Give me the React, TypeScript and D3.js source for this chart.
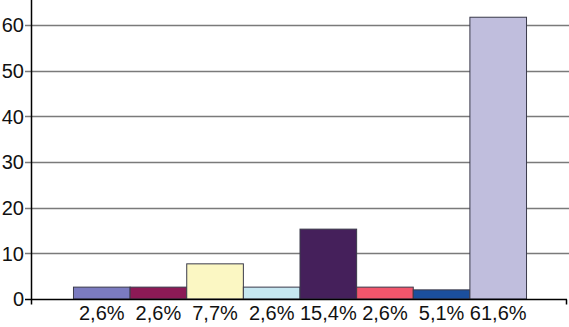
import { useEffect, useRef } from "react";
import * as d3 from "d3";

// data
const categories = ["2,6%", "2,6%", "7,7%", "2,6%", "15,4%", "2,6%", "5,1%", "61,6%"];
const values = [2.6, 2.6, 7.7, 2.6, 15.3, 2.6, 2.0, 61.7];
const colors = ["#7b7bc0", "#8c1a56", "#fbf7c3", "#c6e7f1", "#45205b", "#f1566c", "#1b4f9d", "#c0bedd"];
const yTicks = [0, 10, 20, 30, 40, 50, 60];

function App() {
  const ref = useRef<SVGSVGElement>(null);

  const width = 569;
  const height = 327;
  const margin = { top: 25, right: 0, bottom: 28, left: 31 };

  useEffect(() => {
    const svg = d3.select(ref.current);
    svg.selectAll("*").remove();

    const x = d3.scaleBand()
      .domain(categories.map((_, i) => String(i)))
      .range([margin.left, width - margin.right])
      .paddingInner(0)
      .paddingOuter(0.75);

    const y = d3.scaleLinear()
      .domain([0, 60])
      .range([height - margin.bottom, margin.top]);

    // gridlines (with short ticks left of the axis)
    svg.append("g")
      .selectAll("line")
      .data(yTicks.slice(1))
      .enter()
      .append("line")
      .attr("x1", margin.left - 6)
      .attr("x2", width)
      .attr("y1", d => Math.round(y(d)) + 0.5)
      .attr("y2", d => Math.round(y(d)) + 0.5)
      .attr("stroke", "#7a7a7a")
      .attr("stroke-width", 1.5);

    // bars
    svg.append("g")
      .selectAll("rect")
      .data(values)
      .enter()
      .append("rect")
      .attr("x", (_, i) => x(String(i))!)
      .attr("y", d => y(d))
      .attr("width", x.bandwidth())
      .attr("height", d => y(0) - y(d))
      .attr("fill", (_, i) => colors[i])
      .attr("stroke", "#3a3a4a")
      .attr("stroke-width", 1);

    // axes
    const y0 = Math.round(y(0)) + 0.5;
    svg.append("line")
      .attr("x1", margin.left - 6).attr("x2", width - 2)
      .attr("y1", y0).attr("y2", y0)
      .attr("stroke", "#000").attr("stroke-width", 1.5);
    svg.append("line")
      .attr("x1", width - 2.5).attr("x2", width - 2.5)
      .attr("y1", y0).attr("y2", y0 + 5)
      .attr("stroke", "#000").attr("stroke-width", 1.5);
    svg.append("line")
      .attr("x1", margin.left + 0.5).attr("x2", margin.left + 0.5)
      .attr("y1", 0).attr("y2", y0 + 5)
      .attr("stroke", "#000").attr("stroke-width", 1.5);

    // y tick labels
    svg.append("g")
      .selectAll("text")
      .data(yTicks)
      .enter()
      .append("text")
      .attr("x", margin.left - 7)
      .attr("y", d => y(d))
      .attr("dy", "0.36em")
      .attr("text-anchor", "end")
      .style("font-family", "Liberation Sans, Arial, sans-serif")
      .style("font-size", "20px")
      .attr("fill", "#111")
      .text(d => d);

    // category labels
    svg.append("g")
      .selectAll("text")
      .data(categories)
      .enter()
      .append("text")
      .attr("x", (_, i) => x(String(i))! + x.bandwidth() / 2)
      .attr("y", 320)
      .attr("text-anchor", "middle")
      .style("font-family", "Liberation Sans, Arial, sans-serif")
      .style("font-size", "20px")
      .attr("fill", "#111")
      .text(d => d);
  });

  return (
    <svg
      ref={ref}
      width={width}
      height={height}
      style={{ position: "absolute", left: 0, top: 0, background: "#fff" }}
    ></svg>
  );
}

export default App;
